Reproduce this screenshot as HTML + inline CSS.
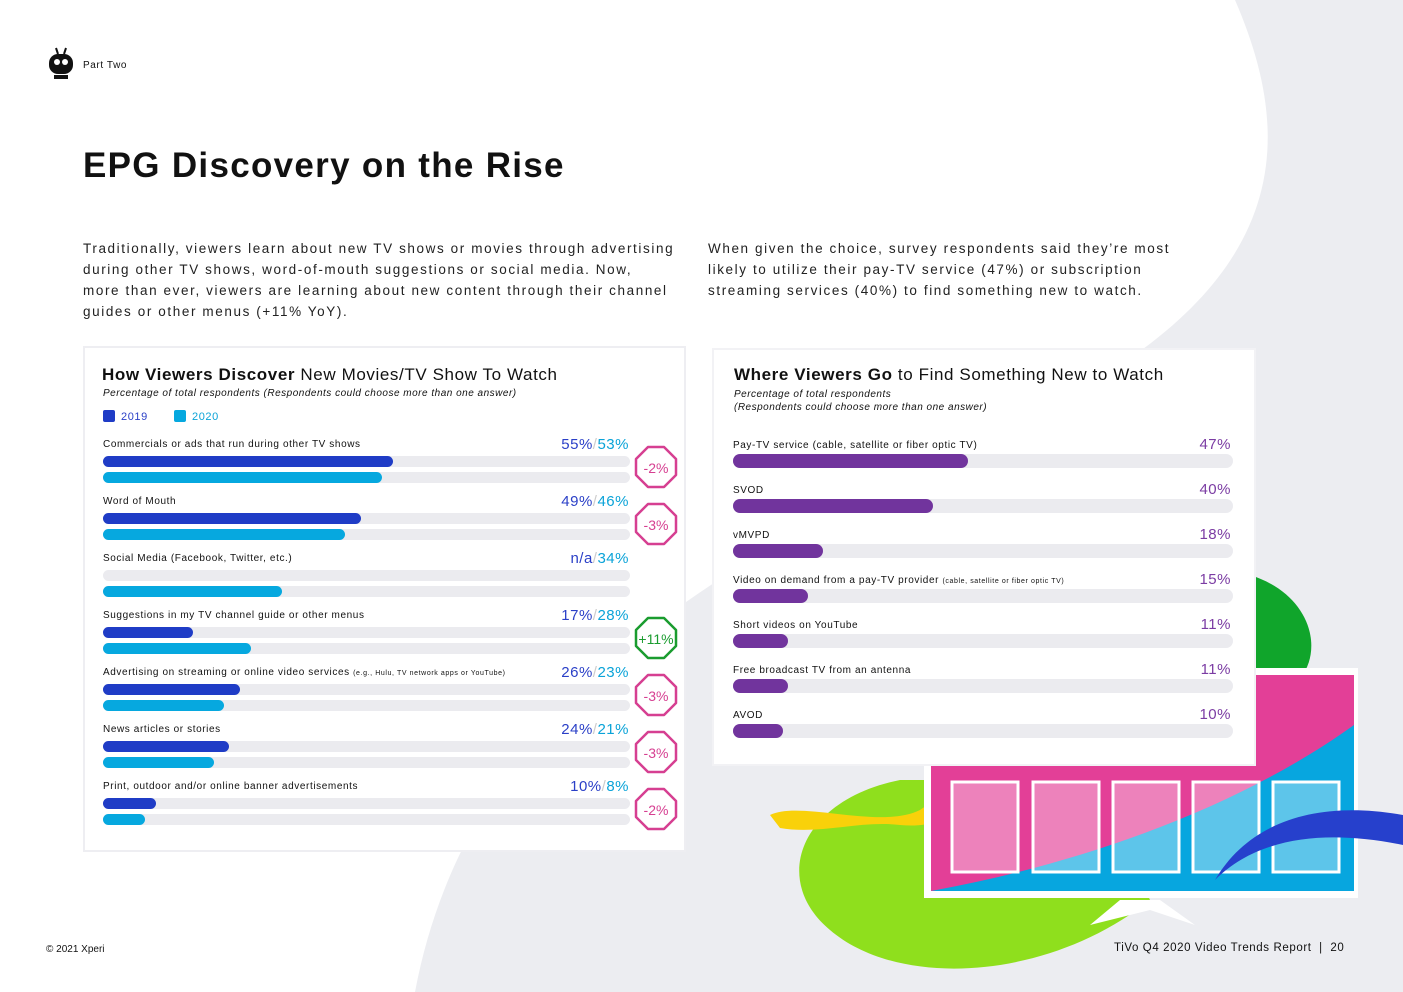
<!DOCTYPE html>
<html><head><meta charset="utf-8">
<style>
body{margin:0;width:1403px;height:992px;position:relative;overflow:hidden;background:#fff;font-family:"Liberation Sans",sans-serif;color:#111}
.abs{position:absolute}
p.body{position:absolute;margin:0;font-size:13.5px;line-height:21px;letter-spacing:1.6px;color:#222;white-space:nowrap}
.card{position:absolute;background:#fff;border:2px solid #eeeef2;box-sizing:border-box}
</style></head>
<body>
<svg class="abs" style="left:0;top:0" width="1403" height="992">
<path d="M1235,0 C1300,150 1290,300 1000,430 C720,560 470,700 415,992 L1403,992 L1403,0 Z" fill="#ecedf1"/>
<path d="M1250,575 C1330,600 1330,690 1260,700 L1250,700 Z" fill="#10a52b"/>
<path d="M900,780 C800,800 770,880 830,930 C900,990 1050,980 1150,900 L1100,780 Z" fill="#8fdf1d"/>
<path d="M770,815 C800,800 880,830 920,810 C950,790 970,770 990,760 L1010,760 C980,800 950,830 900,825 C860,820 820,835 780,828 Z" fill="#f9d10a"/>
<rect x="924" y="668" width="434" height="230" fill="#fff"/>
<rect x="931" y="675" width="423" height="216" fill="#e33f97"/>
<path d="M931,891 C1100,860 1250,800 1354,725 L1354,891 Z" fill="#07a6df"/>
<g fill="#fff" fill-opacity="0.35" stroke="#fff" stroke-width="3">
<rect x="952" y="782" width="66" height="90"/><rect x="1033" y="782" width="66" height="90"/><rect x="1113" y="782" width="66" height="90"/><rect x="1193" y="782" width="66" height="90"/><rect x="1273" y="782" width="66" height="90"/></g>
<path d="M1215,880 C1250,820 1320,800 1403,815 L1403,845 C1330,830 1260,835 1215,880 Z" fill="#2640cc"/>
<path d="M1090,925 L1120,900 L1160,900 L1195,925 L1150,910 Z" fill="#fff"/>
</svg>

<svg class="abs" style="left:46px;top:46px" width="30" height="36">
<line x1="10" y1="2" x2="12" y2="8" stroke="#111" stroke-width="2"/><line x1="20" y1="2" x2="18" y2="8" stroke="#111" stroke-width="2"/>
<rect x="3" y="8" width="24" height="20" rx="9" fill="#111"/><circle cx="11" cy="16" r="3" fill="#fff"/><circle cx="19" cy="16" r="3" fill="#fff"/>
<rect x="8" y="29" width="14" height="4" fill="#111"/></svg>
<div class="abs" style="left:83px;top:60px;font-size:10px;letter-spacing:0.6px">Part Two</div>
<div class="abs" style="left:83px;top:146px;font-size:35px;font-weight:bold;letter-spacing:1.3px">EPG Discovery on the Rise</div>
<p class="body" style="left:83px;top:238px">Traditionally, viewers learn about new TV shows or movies through advertising<br>during other TV shows, word-of-mouth suggestions or social media. Now,<br>more than ever, viewers are learning about new content through their channel<br>guides or other menus (+11% YoY).</p>
<p class="body" style="left:708px;top:238px">When given the choice, survey respondents said they’re most<br>likely to utilize their pay-TV service (47%) or subscription<br>streaming services (40%) to find something new to watch.</p>

<div class="card" style="left:83px;top:346px;width:603px;height:506px"></div>
<div class="abs" style="left:102px;top:365px;font-size:17px;letter-spacing:0.6px"><b>How Viewers Discover</b> New Movies/TV Show To Watch</div>
<div class="abs" style="left:103px;top:388px;font-size:10px;font-style:italic;letter-spacing:0.5px">Percentage of total respondents (Respondents could choose more than one answer)</div>
<div class="abs" style="left:103px;top:410px;font-size:11px;color:#2a3fc7;letter-spacing:0.6px"><span style="display:inline-block;width:12px;height:12px;background:#1f3cc6;vertical-align:-2px;margin-right:6px;border-radius:2px"></span>2019</div>
<div class="abs" style="left:174px;top:410px;font-size:11px;color:#0aa3d8;letter-spacing:0.6px"><span style="display:inline-block;width:12px;height:12px;background:#06a8df;vertical-align:-2px;margin-right:6px;border-radius:2px"></span>2020</div>
<div id="left" class="abs" style="left:0;top:0"></div>

<div class="card" style="left:712px;top:348px;width:544px;height:418px;border-color:#f2f2f5"></div>
<div class="abs" style="left:734px;top:365px;font-size:17px;letter-spacing:0.6px"><b>Where Viewers Go</b> to Find Something New to Watch</div>
<div class="abs" style="left:734px;top:388px;font-size:10px;font-style:italic;letter-spacing:0.5px;line-height:13px">Percentage of total respondents<br>(Respondents could choose more than one answer)</div>
<div id="right" class="abs" style="left:0;top:0"></div>

<div class="abs" style="left:46px;top:944px;font-size:10px">© 2021 Xperi</div>
<div class="abs" style="left:1114px;top:942px;font-size:11.5px;letter-spacing:0.6px">TiVo Q4 2020 Video Trends Report &nbsp;| &nbsp;20</div>

<script>
const leftCats=["Commercials or ads that run during other TV shows","Word of Mouth","Social Media (Facebook, Twitter, etc.)","Suggestions in my TV channel guide or other menus","Advertising on streaming or online video services","News articles or stories","Print, outdoor and/or online banner advertisements"];
const leftNotes=["","","","","(e.g., Hulu, TV network apps or YouTube)","",""];
const v2019=[55,49,null,17,26,24,10];
const v2020=[53,46,34,28,23,21,8];
const changes=["-2%","-3%","","+11%","-3%","-3%","-2%"];
const rightCats=["Pay-TV service (cable, satellite or fiber optic TV)","SVOD","vMVPD","Video on demand from a pay-TV provider","Short videos on YouTube","Free broadcast TV from an antenna","AVOD"];
const rightNotes=["","","","(cable, satellite or fiber optic TV)","","",""];
const rightVals=[47,40,18,15,11,11,10];

const L=document.getElementById('left'),R=document.getElementById('right');
const lx=v=>v/100*527, rx=v=>v/100*500;
function div(parent,css,html){const d=document.createElement('div');d.className='abs';d.style.cssText=css;if(html!==undefined)d.innerHTML=html;parent.appendChild(d);return d;}
leftCats.forEach((c,i)=>{
  const y=439+i*57;
  const lab=div(L,`left:103px;top:${y}px;font-size:10px;letter-spacing:0.6px;white-space:nowrap`,c+(leftNotes[i]?` <span style="font-size:7px">${leftNotes[i]}</span>`:''));
  
  
  const val=div(L,`left:480px;width:149px;text-align:right;top:${y-3}px;font-size:15px;letter-spacing:0.5px;white-space:nowrap`,`<span style="color:#2a3fc7">${v2019[i]===null?'n/a':v2019[i]+'%'}</span><span style="color:#ccc">/</span><span style="color:#0aa3d8">${v2020[i]}%</span>`);
  
  
  [0,1].forEach(k=>{
    const t=div(L,`left:103px;top:${y+17+k*16}px;width:527px;height:11px;border-radius:6px;background:#ebebef`);
    
    
    const v=k?v2020[i]:v2019[i];
    if(v!==null){
      const b=div(L,`left:103px;top:${y+17+k*16}px;width:${lx(v)}px;height:11px;border-radius:6px;background:${k?'#06a8df':'#1f3cc6'}`);
      
      
    }
  });
  if(changes[i]){
    const col=changes[i][0]=='+'?'#1a9c2f':'#d63f91';
    const d=div(L,`left:634px;top:${y+6}px;width:44px;height:44px`,`<svg width="44" height="44"><polygon points="14,2 30,2 42,14 42,30 30,42 14,42 2,30 2,14" fill="#fff" stroke="${col}" stroke-width="2.5" stroke-linejoin="round"/><text x="22" y="28" text-anchor="middle" font-size="14" fill="${col}" font-family="Liberation Sans">${changes[i]}</text></svg>`);
    
    
  }
});
rightCats.forEach((c,i)=>{
  const y=440+i*45;
  const lab=div(R,`left:733px;top:${y}px;font-size:10px;letter-spacing:0.6px;white-space:nowrap`,c+(rightNotes[i]?` <span style="font-size:7px">${rightNotes[i]}</span>`:''));
  
  
  const val=div(R,`left:1130px;width:101px;text-align:right;top:${y-4}px;font-size:15px;color:#7b3ca3;letter-spacing:0.5px`,rightVals[i]+'%');
  
  
  const t=div(R,`left:733px;top:${y+14}px;width:500px;height:14px;border-radius:7px;background:#ebebef`);
  
  
  const b=div(R,`left:733px;top:${y+14}px;width:${rx(rightVals[i])}px;height:14px;border-radius:7px;background:#71349d`);
  
  
});
</script>
</body></html>
